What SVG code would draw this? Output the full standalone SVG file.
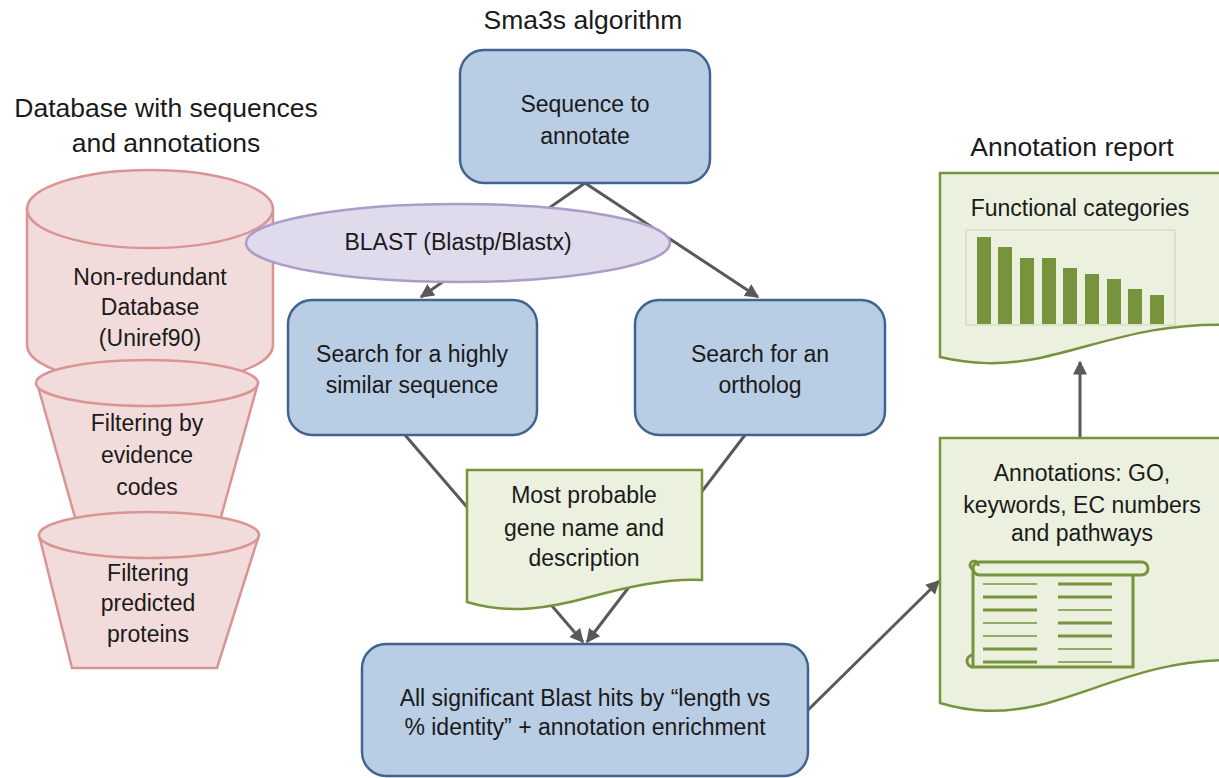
<svg xmlns="http://www.w3.org/2000/svg" width="1219" height="778" viewBox="0 0 1219 778">
<defs>
<style>
text{font-family:"Liberation Sans",Arial,sans-serif;fill:#1a1a1a;text-anchor:middle}
.h{font-size:26.5px}
.t{font-size:23px}
.box{fill:#b9cde5;stroke:#41648e;stroke-width:2.5}
.db{fill:#f2dcdb;stroke:#d99594;stroke-width:2.5}
.doc{fill:#ebf1de;stroke:#77933c;stroke-width:2.5}
.con{stroke:#595959;stroke-width:3;fill:none}
.bar{fill:#77933c}
.sl{stroke:#77933c;fill:none}
</style>
<marker id="ah" viewBox="0 0 10 10" refX="9" refY="5" markerWidth="14" markerHeight="14" markerUnits="userSpaceOnUse" orient="auto">
<path d="M0,0 L10,5 L0,10 Z" fill="#595959"/>
</marker>
</defs>
<rect width="1219" height="778" fill="#ffffff"/>

<text class="h" x="583" y="29">Sma3s algorithm</text>
<text class="h" x="166" y="117">Database with sequences</text>
<text class="h" x="166" y="152">and annotations</text>
<text class="h" x="1072" y="156">Annotation report</text>

<g id="connectors">
<line class="con" x1="585" y1="183" x2="421" y2="297" marker-end="url(#ah)"/>
<line class="con" x1="585" y1="183" x2="758" y2="297" marker-end="url(#ah)"/>
<line class="con" x1="405" y1="435" x2="583" y2="642" marker-end="url(#ah)"/>
<line class="con" x1="745" y1="435" x2="587" y2="642" marker-end="url(#ah)"/>
<line class="con" x1="808" y1="710" x2="939" y2="581" marker-end="url(#ah)"/>
<line class="con" x1="1080" y1="438" x2="1080" y2="362" marker-end="url(#ah)"/>
</g>

<g id="database">
<path class="db" d="M27,209 V345 A123,39 0 0 0 273,345 V209 Z"/>
<ellipse class="db" cx="150" cy="209" rx="123" ry="39"/>
<text class="t" x="150" y="285">Non-redundant</text>
<text class="t" x="150" y="315">Database</text>
<text class="t" x="150" y="346">(Uniref90)</text>
</g>

<g id="filter-evidence">
<path class="db" d="M37,383 L80,535 L216,535 L258,383 Z"/>
<ellipse class="db" cx="147" cy="383" rx="111" ry="23"/>
<text class="t" x="147" y="431">Filtering by</text>
<text class="t" x="147" y="463">evidence</text>
<text class="t" x="147" y="495">codes</text>
</g>

<g id="filter-predicted">
<path class="db" d="M39,535 L72,668 L217,668 L259,535 Z"/>
<ellipse class="db" cx="149" cy="535" rx="110" ry="23"/>
<text class="t" x="148" y="581">Filtering</text>
<text class="t" x="148" y="611">predicted</text>
<text class="t" x="148" y="642">proteins</text>
</g>

<g id="sequence">
<rect class="box" x="460" y="50" width="250" height="133" rx="24"/>
<text class="t" x="585" y="112">Sequence to</text>
<text class="t" x="585" y="144">annotate</text>
</g>

<g id="blast">
<ellipse cx="458" cy="243" rx="212" ry="39" fill="#dfdbec" stroke="#ab9cca" stroke-width="2.5"/>
<text class="t" x="458" y="250">BLAST (Blastp/Blastx)</text>
</g>

<g id="search-similar">
<rect class="box" x="288" y="300" width="249" height="135" rx="24"/>
<text class="t" x="412" y="362">Search for a highly</text>
<text class="t" x="412" y="393">similar sequence</text>
</g>

<g id="search-ortholog">
<rect class="box" x="635" y="300" width="250" height="135" rx="24"/>
<text class="t" x="760" y="362">Search for an</text>
<text class="t" x="760" y="393">ortholog</text>
</g>

<g id="gene-name">
<path class="doc" d="M467,470 H702 V580 C670,578 630,586 590,597 C550,608 510,615 467,602 Z"/>
<text class="t" x="584" y="503">Most probable</text>
<text class="t" x="584" y="536">gene name and</text>
<text class="t" x="584" y="566">description</text>
</g>

<g id="blast-hits">
<rect class="box" x="362" y="644" width="446" height="132" rx="24"/>
<text class="t" x="585" y="706">All significant Blast hits by “length vs</text>
<text class="t" x="585" y="735">% identity” + annotation enrichment</text>
</g>

<g id="annotations">
<path class="doc" d="M940,438 H1232 V660 C1150,660 1100,690 1040,705 C1000,714 970,712 940,703 Z"/>
<text class="t" x="1082" y="481">Annotations: GO,</text>
<text class="t" x="1082" y="513">keywords, EC numbers</text>
<text class="t" x="1082" y="541">and pathways</text>
<g stroke="#77933c" stroke-width="3" fill="none">
<rect x="973" y="562" width="175" height="13" rx="6.5"/>
<path d="M973,569 V667 H1133 V575"/>
<path d="M973,667 A6,6 0 1 1 973,655"/>
<path d="M973,569 A4,4 0 1 1 978,566"/>
</g>
<g class="sl">
<line x1="983" y1="584" x2="1037" y2="584" stroke-width="1.5"/>
<line x1="983" y1="597" x2="1037" y2="597" stroke-width="3"/>
<line x1="983" y1="610" x2="1037" y2="610" stroke-width="3"/>
<line x1="983" y1="623" x2="1037" y2="623" stroke-width="1.5"/>
<line x1="983" y1="636" x2="1037" y2="636" stroke-width="1.5"/>
<line x1="983" y1="649" x2="1037" y2="649" stroke-width="3"/>
<line x1="983" y1="662" x2="1037" y2="662" stroke-width="3"/>
<line x1="1058" y1="584" x2="1112" y2="584" stroke-width="3"/>
<line x1="1058" y1="597" x2="1112" y2="597" stroke-width="3"/>
<line x1="1058" y1="610" x2="1112" y2="610" stroke-width="1.5"/>
<line x1="1058" y1="623" x2="1112" y2="623" stroke-width="3"/>
<line x1="1058" y1="636" x2="1112" y2="636" stroke-width="3"/>
<line x1="1058" y1="649" x2="1112" y2="649" stroke-width="1.5"/>
<line x1="1058" y1="662" x2="1112" y2="662" stroke-width="1.5"/>
</g>
</g>

<g id="functional">
<path class="doc" d="M940,173 H1232 V325 C1150,322 1100,345 1040,358 C1000,366 970,364 940,357 Z"/>
<text class="t" x="1080" y="216">Functional categories</text>
<rect x="966" y="230" width="209" height="95" fill="none" stroke="#c9d6ad" stroke-width="1"/>
<rect class="bar" x="977" y="237" width="14" height="87"/>
<rect class="bar" x="998" y="247" width="14" height="77"/>
<rect class="bar" x="1020" y="258" width="14" height="66"/>
<rect class="bar" x="1042" y="258" width="14" height="66"/>
<rect class="bar" x="1063" y="268" width="14" height="56"/>
<rect class="bar" x="1085" y="274" width="14" height="50"/>
<rect class="bar" x="1107" y="279" width="14" height="45"/>
<rect class="bar" x="1128" y="289" width="14" height="35"/>
<rect class="bar" x="1150" y="295" width="14" height="29"/>
</g>
</svg>
